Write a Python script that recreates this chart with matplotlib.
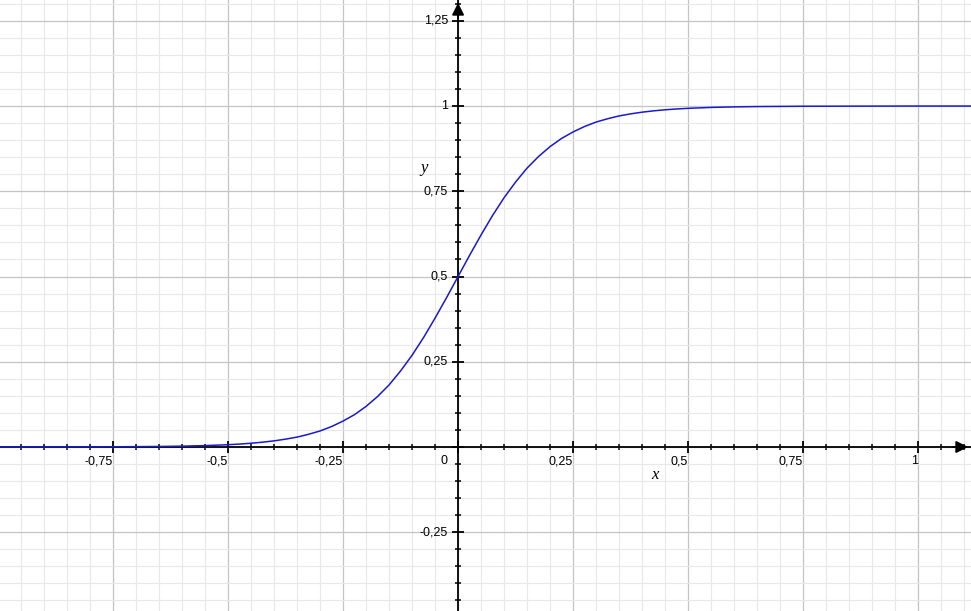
import numpy as np
import matplotlib
matplotlib.use("Agg")
import matplotlib.pyplot as plt
from matplotlib.ticker import MultipleLocator

# curve points
curve_x = [-1.0, -0.75, -0.65, -0.6, -0.55, -0.5, -0.475, -0.45, -0.425, -0.4,
           -0.375, -0.35, -0.325, -0.3, -0.275, -0.25,
           -0.225, -0.2, -0.175, -0.15, -0.125, -0.1, -0.075, -0.05, -0.025, 0.0,
           0.025, 0.05, 0.075, 0.1, 0.125, 0.15, 0.175, 0.2, 0.225, 0.25,
           0.275, 0.3, 0.325, 0.35, 0.375, 0.4, 0.425, 0.45, 0.475, 0.5,
           0.55, 0.6, 0.65, 0.75, 1.0, 1.125]
curve_y = [0.0, 0.0006, 0.0015, 0.0025, 0.0041, 0.0067, 0.0086, 0.011, 0.0141, 0.018,
           0.023, 0.029, 0.0373, 0.047, 0.060, 0.076,
           0.095, 0.119, 0.148, 0.182, 0.223, 0.269, 0.321, 0.378, 0.438, 0.5,
           0.562, 0.622, 0.679, 0.731, 0.777, 0.818, 0.852, 0.881, 0.905, 0.924,
           0.940, 0.953, 0.9627, 0.971, 0.977, 0.982, 0.9859, 0.989, 0.9914, 0.9933,
           0.9959, 0.9975, 0.9985, 0.9994, 1.0, 1.0]

x_ticks = [-0.75, -0.5, -0.25, 0.25, 0.5, 0.75, 1]
x_labels = ["-0,75", "-0,5", "-0,25", "0,25", "0,5", "0,75", "1"]
y_ticks = [-0.25, 0.25, 0.5, 0.75, 1, 1.25]
y_labels = ["-0,25", "0,25", "0,5", "0,75", "1", "1,25"]

fig = plt.figure(figsize=(9.71, 6.11), dpi=100)
ax = fig.add_axes([0, 0, 1, 1])
ax.set_xlim(-0.9957, 1.115)
ax.set_ylim(-0.481, 1.311)

ax.xaxis.set_major_locator(MultipleLocator(0.25))
ax.xaxis.set_minor_locator(MultipleLocator(0.05))
ax.yaxis.set_major_locator(MultipleLocator(0.25))
ax.yaxis.set_minor_locator(MultipleLocator(0.05))
ax.grid(which="minor", color="#e8e8e8", linewidth=0.8)
ax.grid(which="major", color="#c4c4c4", linewidth=0.9)
ax.set_axisbelow(True)

for side in ["top", "right"]:
    ax.spines[side].set_visible(False)
ax.spines["left"].set_position(("data", 0))
ax.spines["bottom"].set_position(("data", 0))
ax.spines["left"].set_linewidth(1.3)
ax.spines["bottom"].set_linewidth(1.3)
ax.tick_params(which="major", direction="inout", length=8, width=1.3,
               labelbottom=False, labelleft=False)
ax.tick_params(which="minor", direction="inout", length=5, width=1.1)

# arrows at the ends of the axes
ax.annotate("", xy=(1.115, 0), xytext=(1.07, 0),
            arrowprops=dict(arrowstyle="-|>", color="black", lw=1.3, mutation_scale=18))
ax.annotate("", xy=(0, 1.311), xytext=(0, 1.25),
            arrowprops=dict(arrowstyle="-|>", color="black", lw=1.3, mutation_scale=18))

ax.plot(curve_x, curve_y, color="#1a1acc", linewidth=1.1, zorder=3)

font = dict(family="Liberation Sans", size=9, color="black")
for t, lab in zip(x_ticks, x_labels):
    ax.text(t, -0.024, lab, ha="right", va="top", **font)
for t, lab in zip(y_ticks, y_labels):
    ax.text(-0.022, t, lab, ha="right", va="center", **font)
ax.text(-0.022, -0.024, "0", ha="right", va="top", **font)

ax.text(0.428, -0.082, "x", fontsize=12, fontstyle="italic",
        family="Liberation Serif", ha="center", va="center")
ax.text(-0.074, 0.818, "y", fontsize=12, fontstyle="italic",
        family="Liberation Serif", ha="center", va="center")

fig.savefig("out.png", dpi=100)
